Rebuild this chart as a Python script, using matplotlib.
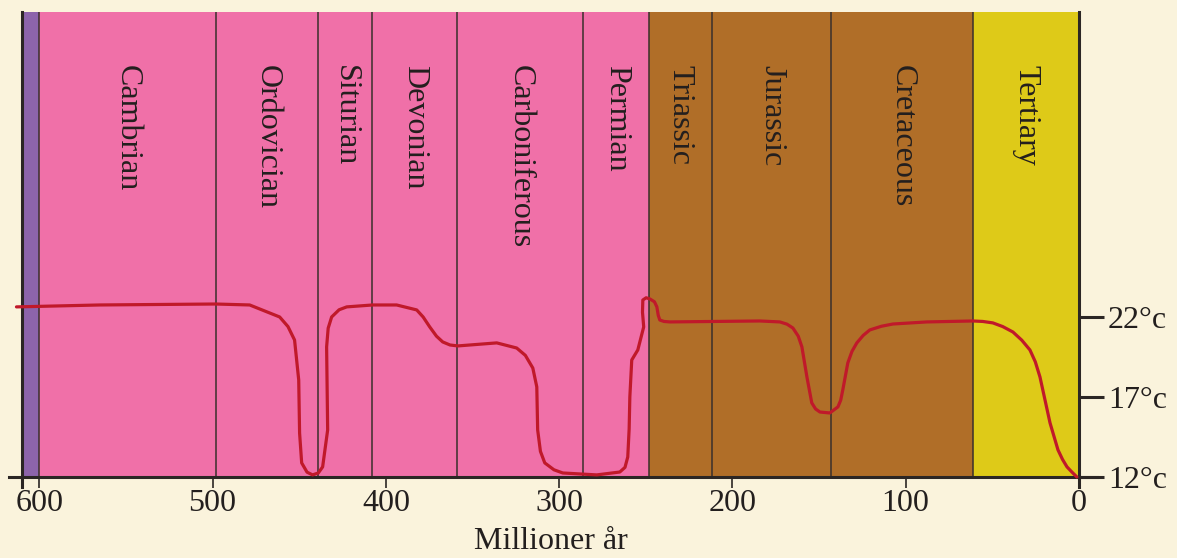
import matplotlib.pyplot as plt

plt.rcParams['font.family'] = ['Liberation Serif', 'DejaVu Serif']

# period boundaries (millions of years ago) and names
bounds = [610, 600, 498, 439, 408, 359, 286, 248, 212, 143, 61, 0]
periods = ['', 'Cambrian', 'Ordovician', 'Siturian', 'Devonian', 'Carboniferous',
           'Permian', 'Triassic', 'Jurassic', 'Cretaceous', 'Tertiary']
colors = ['#8D64AB', '#F070A8', '#F070A8', '#F070A8', '#F070A8', '#F070A8',
          '#F070A8', '#B06E28', '#B06E28', '#B06E28', '#DECA18']

# temperature curve
age = [613.2, 565.2, 498.3, 478.6, 461.3, 456.5, 452.7, 450.3, 449.8, 448.6,
       445.5, 442.3, 439.0, 436.5, 433.6, 434.2, 433.3, 431.3, 427.0, 422.6,
       407.6, 393.8, 382.2, 378.5, 374.7, 370.8, 367.2, 363.0, 358.5, 336.0,
       324.5, 319.5, 315.2, 312.9, 312.4, 310.8, 308.3, 303.0, 297.9, 278.3,
       265.0, 262.0, 260.4, 259.6, 259.2, 258.1, 254.6, 251.2, 251.9, 251.7,
       249.8, 247.7, 245.0, 243.6, 242.8, 241.9, 239.5, 236.1, 184.2, 172.6,
       168.5, 165.1, 162.0, 159.9, 157.0, 154.2, 152.0, 149.5, 143.8, 139.1,
       137.5, 136.3, 133.4, 131.0, 128.2, 124.5, 120.7, 114.0, 107.4, 87.8,
       61.2, 55.5, 49.7, 44.0, 38.1, 33.0, 28.3, 25.2, 22.5, 16.7,
       12.1, 9.5, 6.9, 4.0, 1.2]
temp = [22.63, 22.75, 22.81, 22.75, 22.0, 21.4, 20.56, 18.06, 14.75, 12.88,
        12.3, 12.13, 12.25, 12.63, 14.94, 20.13, 21.3, 22.0, 22.45, 22.63,
        22.75, 22.75, 22.44, 22.0, 21.38, 20.8, 20.44, 20.25, 20.19, 20.38,
        20.06, 19.6, 18.81, 17.63, 14.94, 13.6, 12.88, 12.45, 12.25, 12.13,
        12.31, 12.6, 13.25, 15.0, 17.0, 19.31, 19.94, 21.38, 22.3, 23.06,
        23.2, 23.13, 22.95, 22.63, 22.1, 21.81, 21.72, 21.69, 21.75, 21.69,
        21.55, 21.31, 20.8, 20.13, 18.25, 16.63, 16.25, 16.06, 16.0, 16.38,
        16.8, 17.44, 19.13, 19.85, 20.38, 20.85, 21.19, 21.42, 21.56, 21.69,
        21.75, 21.72, 21.63, 21.4, 21.06, 20.55, 19.94, 19.2, 18.25, 15.38,
        13.69, 13.1, 12.63, 12.3, 12.0]

xticks = [600, 500, 400, 300, 200, 100, 0]
yticks = [12, 17, 22]
ylabels = ['12°c', '17°c', '22°c']

bg = '#FAF3DC'
dark = '#2B2624'
txt = '#231F1E'

fig = plt.figure(figsize=(11.77, 5.58), dpi=100, facecolor=bg)
ax = fig.add_axes([0.0187, 0.1452, 0.898, 0.8333])
ax.set_facecolor(bg)
ax.set_xlim(610, 0)
ax.set_ylim(12, 41.06)

for i in range(len(periods)):
    ax.axvspan(bounds[i], bounds[i + 1], color=colors[i], lw=0, zorder=0)
    if periods[i]:
        ax.text((bounds[i] + bounds[i + 1]) / 2, 37.75, periods[i], rotation=-90,
                ha='center', va='top', fontsize=23, color=txt)
for b in bounds[1:-1]:
    ax.axvline(b, color='#3A302C', lw=1.1, zorder=1)

ax.plot(age, temp, color='#C0192A', lw=2.3, solid_joinstyle='round',
        solid_capstyle='round', zorder=3, clip_on=False)

ax.spines['top'].set_visible(False)
for s in ['left', 'right', 'bottom']:
    ax.spines[s].set_color(dark)
    ax.spines[s].set_linewidth(2.2)

# axis lines running a little past the box
ax.plot([1.017, 1.0], [0, 0], transform=ax.transAxes, color=dark, lw=2.2, clip_on=False)
ax.plot([-0.012, 0.0], [0, 0], transform=ax.transAxes, color=dark, lw=2.2, clip_on=False)
ax.plot([0, 0], [0, -0.022], transform=ax.transAxes, color=dark, lw=2.2, clip_on=False)
ax.plot([1, 1], [0, -0.022], transform=ax.transAxes, color=dark, lw=2.2, clip_on=False)

ax.set_xticks(xticks)
ax.set_xticklabels([str(t) for t in xticks])
ax.tick_params(axis='x', length=8, width=1.2, color=dark, labelsize=23,
               labelcolor=txt, pad=1)
ax.yaxis.tick_right()
ax.set_yticks(yticks)
ax.set_yticklabels(ylabels)
ax.tick_params(axis='y', length=18, width=2.2, color=dark, labelsize=23,
               labelcolor=txt, pad=3)
ax.set_xlabel('Millioner år', fontsize=23, color=txt, labelpad=6)

fig.savefig('out.png', dpi=100, facecolor=bg)
